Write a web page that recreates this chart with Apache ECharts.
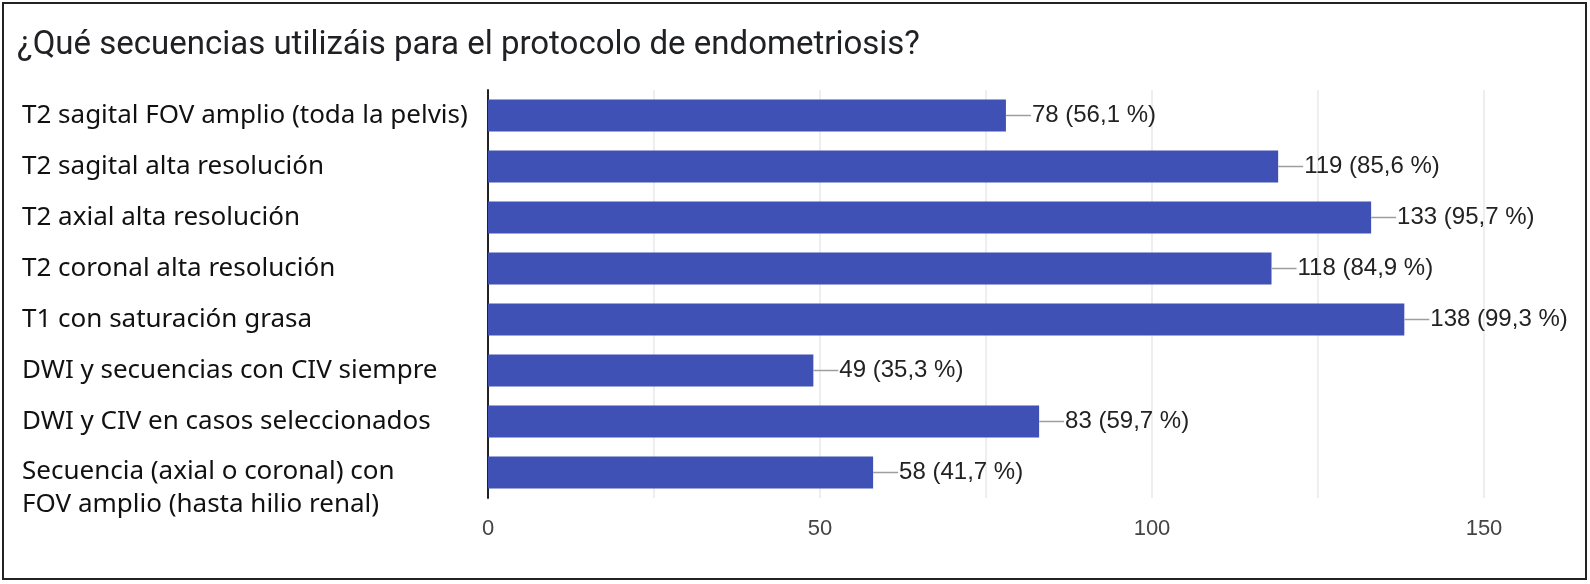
<!DOCTYPE html>
<html><head><meta charset="utf-8">
<script src="https://cdn.jsdelivr.net/npm/echarts@6/dist/echarts.min.js"></script>
<style>html,body{margin:0;padding:0;background:#fff}#c{width:1590px;height:584px}</style>
</head><body><div id="c"></div>
<script>
const titleText = '¿Qué secuencias utilizáis para el protocolo de endometriosis?';
const categories = [
  'T2 sagital FOV amplio (toda la pelvis)',
  'T2 sagital alta resolución',
  'T2 axial alta resolución',
  'T2 coronal alta resolución',
  'T1 con saturación grasa',
  'DWI y secuencias con CIV siempre',
  'DWI y CIV en casos seleccionados',
  'Secuencia (axial o coronal) con\nFOV amplio (hasta hilio renal)'
];
const counts = [78, 119, 133, 118, 138, 49, 83, 58];
const percents = ['56,1', '85,6', '95,7', '84,9', '99,3', '35,3', '59,7', '41,7'];
const xTicks = [0, 50, 100, 150];

const chart = echarts.init(document.getElementById('c'));
chart.setOption({
  animation: false,
  title: {
    text: titleText, left: 12, top: 24,
    textStyle: {fontFamily: 'Roboto', fontSize: 33, fontWeight: 'normal', color: '#202124'}
  },
  graphic: [{type: 'rect', shape: {x: 3, y: 3, width: 1583, height: 576},
    style: {fill: 'none', stroke: '#222', lineWidth: 2}, silent: true}],
  grid: {left: 488, right: 106, top: 90, bottom: 86},
  xAxis: {
    type: 'value', min: 0, max: 150, interval: 25,
    axisLine: {show: false}, axisTick: {show: false},
    splitLine: {lineStyle: {color: '#e9e9e9', width: 1.5}},
    axisLabel: {
      margin: 20, fontFamily: 'Liberation Sans', fontSize: 22, color: '#444',
      formatter: v => xTicks.includes(v) ? String(v) : ''
    }
  },
  yAxis: {
    type: 'category', data: categories, inverse: true,
    axisLine: {show: true, lineStyle: {color: '#222', width: 2}},
    axisTick: {show: false},
    axisLabel: {
      interval: 0, hideOverlap: false,
      align: 'left', margin: 466, fontFamily: 'Noto Sans', fontSize: 26,
      color: '#111', lineHeight: 33,
      formatter: v => {
        const parts = v.split('\n');
        if (parts.length === 1) return '{x|' + v + '}';
        return '{p| }\n' + parts.map(s => '{x|' + s + '}').join('\n');
      },
      rich: {
        x: {fontFamily: 'Noto Sans', fontSize: 26, color: '#111', lineHeight: 33},
        p: {fontSize: 10, lineHeight: 31}
      }
    }
  },
  series: [{
    type: 'bar', data: counts, barCategoryGap: '37%',
    itemStyle: {color: '#3f51b5'},
    label: {
      show: true, position: 'right', distance: 0,
      formatter: p => '{ln|}{t|' + counts[p.dataIndex] + ' (' + percents[p.dataIndex] + ' %)}',
      rich: {
        ln: {width: 25, height: 1.5, backgroundColor: '#9e9e9e'},
        t: {fontFamily: 'Liberation Sans', fontSize: 24, color: '#222', padding: [0, 0, 0, 1]}
      }
    }
  }]
});
</script></body></html>
